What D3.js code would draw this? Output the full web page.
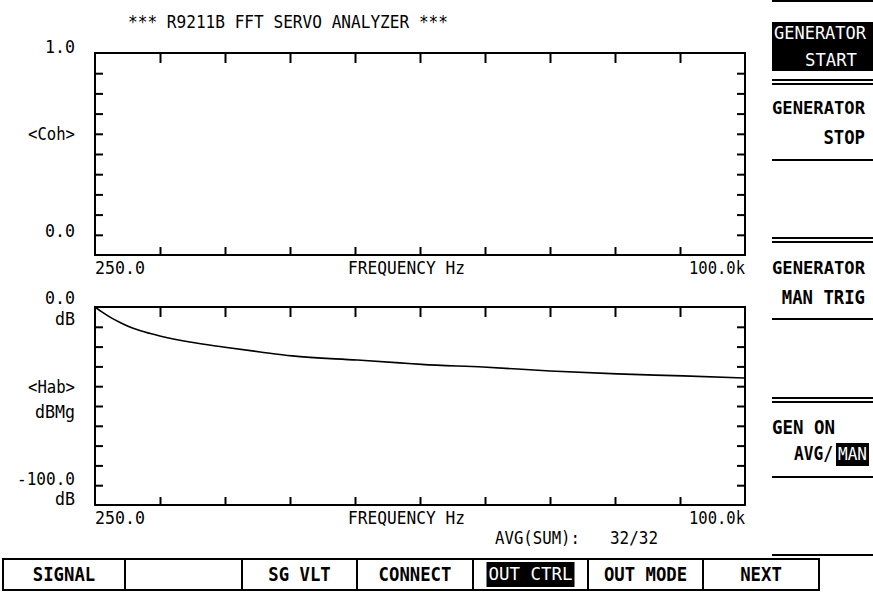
<!DOCTYPE html>
<html>
<head>
    <title>R9211B FFT Servo Analyzer</title>
    <script src="https://d3js.org/d3.v7.min.js"></script>
    <style>
        body { margin: 0; background: #fff; }
        svg { display: block; }
        text { font-family: "DejaVu Sans Mono", monospace; fill: #000; }
    </style>
</head>
<body>
    <div id="chart"></div>

    <script>
        // Data
        const freqHz = [250, 1300, 2550, 4100, 5600, 7900, 10200, 14800, 19900, 25600,
                        30500, 40500, 47000, 50400, 59800, 70100, 80400, 90500, 100000];
        const habDb = [0, -2.5, -5.1, -7.8, -10.1, -12.6, -14.6, -17.7, -20.2, -22.7,
                       -24.7, -26.8, -28.2, -29.0, -30.3, -32.3, -33.8, -34.8, -35.9];
        const cohVal = [1, 1, 1, 1, 1, 1, 1, 1, 1, 1, 1, 1, 1, 1, 1, 1, 1, 1, 1];

        const freqRange = [250, 100000];
        const xTickLabels = ["250.0", "100.0k"];
        const cohRange = [0, 1];
        const cohLabels = ["1.0", "0.0"];
        const habRange = [-100, 0];
        const habLabels = ["0.0", "-100.0"];
        const divisions = 10;

        const sideKeys = [
            { lines: ["GENERATOR", "START"], inverted: true },
            { lines: ["GENERATOR", "STOP"] },
            { lines: ["GENERATOR", "MAN TRIG"] },
            { lines: ["GEN ON", "AVG/"], invertTail: "MAN" }
        ];
        const bottomKeys = ["SIGNAL", "", "SG VLT", "CONNECT", "OUT CTRL", "OUT MODE", "NEXT"];
        const bottomInverted = ["OUT CTRL"];

        const W = 873, H = 592;
        const svg = d3.select("#chart").append("svg")
            .attr("width", W).attr("height", H);
        svg.append("rect").attr("width", W).attr("height", H).attr("fill", "#fff");

        // helper for text with fixed width
        function label(x, y, str, opts = {}) {
            const t = svg.append("text")
                .attr("x", x).attr("y", y)
                .attr("dy", "0.36em")
                .attr("font-size", opts.size || 18)
                .attr("text-anchor", opts.anchor || "start")
                .attr("font-weight", opts.bold ? "bold" : "normal")
                .text(str);
            if (opts.len) t.attr("textLength", opts.len).attr("lengthAdjust", "spacingAndGlyphs");
            if (opts.fill) t.style("fill", opts.fill);
            return t;
        }

        label(128, 22, "*** R9211B FFT SERVO ANALYZER ***", { len: 320 });

        const x = d3.scaleLinear().domain(freqRange).range([95, 745]);
        const xTicks = d3.range(divisions + 1).map(i => freqRange[0] + i * (freqRange[1] - freqRange[0]) / divisions);

        function drawPanel(top, bottom, yDomain, yVals) {
            const y = d3.scaleLinear().domain(yDomain).range([bottom, top]);
            const yTicks = d3.range(divisions + 1).map(i => yDomain[0] + i * (yDomain[1] - yDomain[0]) / divisions);
            const g = svg.append("g");

            const axes = [
                { gen: d3.axisTop(x).tickValues(xTicks.slice(1, -1)).tickSize(-10), t: `translate(0,${top})` },
                { gen: d3.axisBottom(x).tickValues(xTicks.slice(1, -1)).tickSize(-8), t: `translate(0,${bottom})` },
                { gen: d3.axisLeft(y).tickValues(yTicks.slice(1, -1)).tickSize(-8), t: `translate(${x.range()[0]},0)` },
                { gen: d3.axisRight(y).tickValues(yTicks.slice(1, -1)).tickSize(-8), t: `translate(${x.range()[1]},0)` }
            ];
            axes.forEach(a => {
                const ax = g.append("g").attr("transform", a.t).call(a.gen.tickFormat(""));
                ax.select(".domain").remove();
                ax.selectAll("line").attr("stroke", "#000").attr("stroke-width", 2);
            });

            g.append("rect")
                .attr("x", x.range()[0]).attr("y", top)
                .attr("width", x.range()[1] - x.range()[0]).attr("height", bottom - top)
                .attr("fill", "none").attr("stroke", "#000").attr("stroke-width", 2);

            const line = d3.line()
                .x((d, i) => x(freqHz[i]))
                .y(d => y(d))
                .curve(d3.curveMonotoneX);
            g.append("path")
                .datum(yVals)
                .attr("d", line)
                .attr("fill", "none")
                .attr("stroke", "#000")
                .attr("stroke-width", 1.6);

            // frequency labels under the frame
            label(x(freqRange[0]), bottom + 13, xTickLabels[0], { len: 50 });
            label(348, bottom + 13, "FREQUENCY Hz", { len: 117 });
            label(x(freqRange[1]), bottom + 13, xTickLabels[1], { anchor: "end", len: 56 });
            return y;
        }

        // Coherence panel
        const yCoh = drawPanel(53, 255, cohRange, cohVal);
        label(75, yCoh(1) - 6, cohLabels[0], { anchor: "end", len: 30 });
        label(75, yCoh(0.6), "<Coh>", { anchor: "end", len: 47 });
        label(75, yCoh(0.12), cohLabels[1], { anchor: "end", len: 30 });

        // Transfer function panel
        const yHab = drawPanel(307, 505, habRange, habDb);
        label(75, yHab(0) - 9, habLabels[0], { anchor: "end", len: 30 });
        label(75, yHab(0) + 12, "dB", { anchor: "end", len: 20 });
        label(75, yHab(-40), "<Hab>", { anchor: "end", len: 47 });
        label(75, yHab(-53), "dBMg", { anchor: "end", len: 40 });
        label(75, yHab(-86.5), habLabels[1], { anchor: "end", len: 58 });
        label(75, yHab(-96.5), "dB", { anchor: "end", len: 20 });

        label(495, 538, "AVG(SUM):", { len: 85 });
        label(610, 538, "32/32", { len: 48 });

        // right softkey column
        const sx0 = 772, sx1 = 873;
        const hline = (yy, w) => svg.append("line")
            .attr("x1", sx0).attr("x2", sx1).attr("y1", yy).attr("y2", yy)
            .attr("stroke", "#000").attr("stroke-width", w || 2);
        hline(1, 2);
        [80, 238, 398].forEach(yy => { hline(yy, 2); hline(yy + 4, 2); });
        [160, 319, 477, 555].forEach(yy => hline(yy));

        const keyTops = [22, 95, 255, 414];
        sideKeys.forEach((k, i) => {
            const ty = keyTops[i];
            if (k.inverted) {
                svg.append("rect").attr("x", sx0).attr("y", ty).attr("width", sx1 - sx0).attr("height", 49).attr("fill", "#000");
                label(sx0 + 2, ty + 11, k.lines[0], { len: 92, fill: "#fff" });
                label(805, ty + 38, k.lines[1], { len: 52, fill: "#fff" });
            } else if (k.invertTail) {
                label(sx0, ty + 13, k.lines[0], { bold: true, size: 19, len: 63 });
                label(794, ty + 39, k.lines[1], { bold: true, size: 19, len: 39 });
                svg.append("rect").attr("x", 836).attr("y", ty + 29).attr("width", 33).attr("height", 23).attr("fill", "#000");
                label(838, ty + 40, k.invertTail, { len: 29, fill: "#fff" });
            } else {
                label(sx0, ty + 13, k.lines[0], { bold: true, size: 18, len: 93 });
                const w2 = k.lines[1].length * 10.4;
                label(865, ty + 42, k.lines[1], { bold: true, size: 19, anchor: "end", len: w2 });
            }
        });

        // bottom softkey row
        const bEdges = [3, 125, 242, 357, 473, 588, 703, 819];
        svg.append("rect").attr("x", 3).attr("y", 559).attr("width", 816).attr("height", 31)
            .attr("fill", "none").attr("stroke", "#000").attr("stroke-width", 2);
        bEdges.slice(1, -1).forEach(e => svg.append("line")
            .attr("x1", e).attr("x2", e).attr("y1", 559).attr("y2", 590)
            .attr("stroke", "#000").attr("stroke-width", 2));
        bottomKeys.forEach((k, i) => {
            if (!k) return;
            const cx = (bEdges[i] + bEdges[i + 1]) / 2;
            const w = k.length * 10.4;
            if (bottomInverted.includes(k)) {
                svg.append("rect").attr("x", cx - 44).attr("y", 562).attr("width", 88).attr("height", 25).attr("fill", "#000");
                label(cx, 574, k, { anchor: "middle", len: 84, fill: "#fff" });
            } else {
                label(cx, 574, k, { anchor: "middle", bold: true, size: 19, len: w });
            }
        });
    </script>
</body>
</html>
